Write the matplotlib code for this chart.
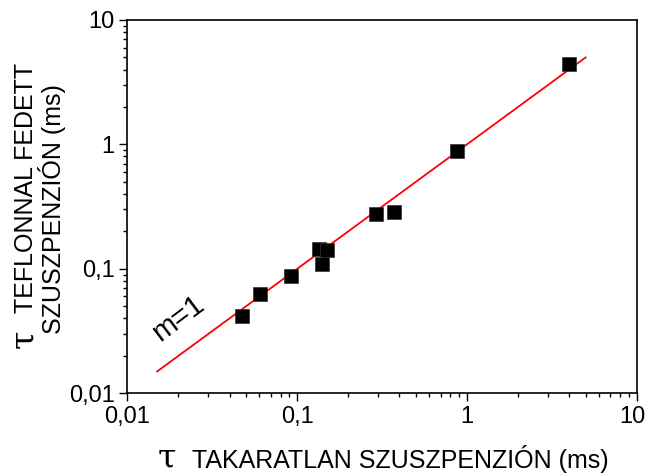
import matplotlib
matplotlib.use("Agg")
import matplotlib.pyplot as plt
import matplotlib.transforms as mtransforms
from matplotlib.ticker import FixedLocator, FixedFormatter, LogLocator, NullFormatter

plt.rcParams['font.family'] = ['Liberation Sans', 'DejaVu Sans']

# data
x_uncovered = [0.0472, 0.0604, 0.0925, 0.1346, 0.1507, 0.1406, 0.292, 0.372, 0.875, 3.98]
y_teflon = [0.0415, 0.0633, 0.088, 0.144, 0.143, 0.109, 0.277, 0.288, 0.88, 4.45]
fit_x = [0.015, 5.0]
fit_y = [0.015, 5.0]
tick_vals = [0.01, 0.1, 1, 10]
tick_labels = ['0,01', '0,1', '1', '10']

fig = plt.figure(figsize=(6.48, 4.75), dpi=100)
W, H = 648, 475
ax = fig.add_axes([127.3 / W, 1 - 393.3 / H, (636.7 - 127.3) / W, (393.3 - 20) / H])
ax.set_xscale('log')
ax.set_yscale('log')
ax.set_xlim(0.01, 10)
ax.set_ylim(0.01, 10)

ax.plot(fit_x, fit_y, color='#ff0000', lw=1.3, zorder=2)
ax.plot(x_uncovered, y_teflon, linestyle='none', marker='s', ms=10, color='black',
        markeredgecolor='#333333', markeredgewidth=0.5, zorder=3)

for a in (ax.xaxis, ax.yaxis):
    a.set_major_locator(FixedLocator(tick_vals))
    a.set_major_formatter(FixedFormatter(tick_labels))
    a.set_minor_locator(LogLocator(base=10, subs=range(2, 10)))
    a.set_minor_formatter(NullFormatter())

ax.tick_params(which='major', direction='out', length=6, width=1, labelsize=17, pad=3)
ax.tick_params(which='minor', direction='out', length=3, width=1)
for s in ax.spines.values():
    s.set_linewidth(1.2)

# keep the last x tick label inside the figure
fig.canvas.draw()
last = ax.xaxis.get_majorticklabels()[-1]
last.set_transform(last.get_transform() + mtransforms.ScaledTranslation(-4 / 100, 0, fig.dpi_scale_trans))

ax.text(0.0199, 0.0403, 'm=1', fontsize=21, rotation=37, ha='center', va='center')

def px(x, y):
    return x / W, 1 - y / H

tau_font = dict(family=['DejaVu Serif'], fontsize=24)
lab_font = dict(fontsize=18)

# x label
fig.text(*px(158, 468), 'τ', ha='left', va='baseline', **tau_font)
fig.text(*px(192, 468), 'TAKARATLAN SZUSZPENZIÓN (ms)', ha='left', va='baseline', **lab_font)

# y label (two lines, rotated)
fig.text(*px(33, 348), 'τ', ha='left', va='baseline', rotation=90,
         rotation_mode='anchor', **tau_font)
fig.text(*px(33, 313), 'TEFLONNAL FEDETT', ha='left', va='baseline', rotation=90,
         rotation_mode='anchor', **lab_font)
fig.text(*px(61, 209), 'SZUSZPENZIÓN (ms)', ha='center', va='baseline', rotation=90,
         rotation_mode='anchor', **lab_font)

fig.savefig('out.png', dpi=100)
